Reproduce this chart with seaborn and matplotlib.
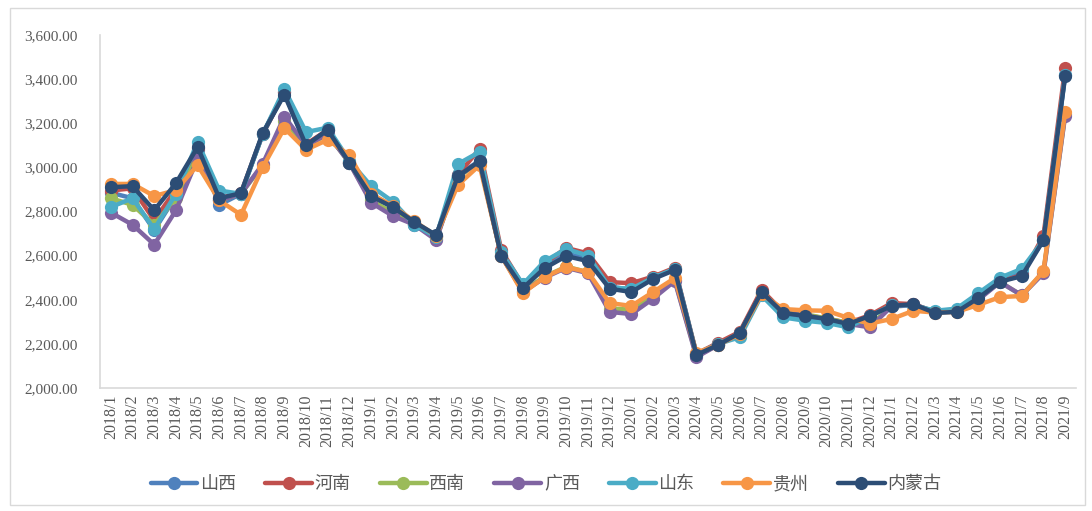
import numpy as np
import pandas as pd
import seaborn as sns
import matplotlib.pyplot as plt
from matplotlib.patches import Rectangle
from matplotlib.ticker import FuncFormatter

months = ['2018/%d' % m for m in range(1, 13)] + ['2019/%d' % m for m in range(1, 13)] + \
         ['2020/%d' % m for m in range(1, 13)] + ['2021/%d' % m for m in range(1, 10)]

shanxi = [2885, 2860, 2715, 2870, 3080, 2830, 2880, 3150, 3340, 3100, 3170, 3020,
          2870, 2820, 2745, 2690, 2965, 3030, 2605, 2455, 2555, 2610, 2585, 2460,
          2445, 2500, 2540, 2150, 2200, 2240, 2435, 2335, 2320, 2305, 2285, 2325,
          2375, 2380, 2345, 2350, 2420, 2490, 2520, 2670, 3420]
henan = [2895, 2905, 2760, 2900, 3090, 2860, 2885, 3150, 3340, 3105, 3170, 3025,
         2875, 2825, 2750, 2690, 2965, 3085, 2625, 2465, 2565, 2635, 2610, 2480,
         2475, 2505, 2545, 2155, 2205, 2255, 2445, 2345, 2330, 2315, 2295, 2330,
         2385, 2380, 2345, 2350, 2415, 2485, 2510, 2690, 3450]
xinan = [2860, 2830, 2740, 2860, 3050, 2850, 2880, 3010, 3210, 3095, 3150, 3020,
         2850, 2795, 2745, 2675, 2955, 3025, 2600, 2440, 2505, 2550, 2525, 2360,
         2355, 2420, 2490, 2145, 2195, 2250, 2430, 2345, 2335, 2315, 2295, 2285,
         2370, 2375, 2345, 2350, 2405, 2480, 2420, 2525, 3240]
guangxi = [2795, 2740, 2650, 2805, 3040, 2850, 2880, 3015, 3230, 3100, 3150, 3020,
           2840, 2780, 2740, 2670, 2960, 3025, 2600, 2435, 2500, 2545, 2520, 2345,
           2335, 2405, 2485, 2140, 2195, 2250, 2430, 2340, 2330, 2310, 2290, 2275,
           2370, 2375, 2345, 2350, 2400, 2480, 2420, 2520, 3235]
shandong = [2820, 2860, 2720, 2880, 3115, 2895, 2880, 3150, 3355, 3160, 3180, 3030,
            2915, 2845, 2740, 2685, 3015, 3070, 2615, 2470, 2575, 2630, 2600, 2455,
            2450, 2500, 2540, 2155, 2200, 2230, 2420, 2320, 2305, 2295, 2275, 2325,
            2375, 2375, 2350, 2360, 2430, 2500, 2540, 2670, 3420]
guizhou = [2925, 2925, 2870, 2897, 3010, 2850, 2785, 3000, 3178, 3080, 3125, 3055,
           2880, 2825, 2755, 2690, 2920, 3010, 2600, 2430, 2503, 2548, 2525, 2385,
           2372, 2435, 2498, 2160, 2195, 2245, 2425, 2358, 2352, 2350, 2318, 2292,
           2313, 2350, 2342, 2345, 2377, 2412, 2417, 2530, 3250]
neimenggu = [2910, 2915, 2806, 2928, 3092, 2860, 2883, 3155, 3330, 3100, 3170, 3020,
             2870, 2820, 2752, 2693, 2960, 3028, 2598, 2453, 2543, 2598, 2575, 2450,
             2435, 2494, 2535, 2150, 2195, 2250, 2435, 2340, 2327, 2313, 2290, 2327,
             2372, 2380, 2340, 2345, 2408, 2482, 2507, 2670, 3413]

names = ['山西', '河南', '西南', '广西', '山东', '贵州', '内蒙古']
colors = ['#4F81BD', '#C0504D', '#9BBB59', '#8064A2', '#4BACC6', '#F79646', '#2C4D75']
series = [shanxi, henan, xinan, guangxi, shandong, guizhou, neimenggu]

df = pd.concat([pd.DataFrame({'idx': range(len(months)), 'value': s, 'region': n})
                for n, s in zip(names, series)], ignore_index=True)

sns.set_style('white')
plt.rcParams['font.family'] = ['Liberation Serif', 'Noto Sans CJK SC']

fig = plt.figure(figsize=(10.92, 5.11), dpi=100)
ax = fig.add_axes([100 / 1092, 1 - 388 / 511, 976 / 1092, 353 / 511])

sns.lineplot(data=df, x='idx', y='value', hue='region', hue_order=names,
             palette=colors, marker='o', markersize=9.5, markeredgewidth=0,
             linewidth=3.2, ax=ax, legend=True)

ax.set_xlim(-0.5, len(months) - 0.5)
ax.set_ylim(2000, 3600)
ax.set_yticks(np.arange(2000, 3601, 200))
ax.yaxis.set_major_formatter(FuncFormatter(lambda v, p: '{:,.2f}'.format(v)))
ax.set_xticks(range(len(months)))
ax.set_xticklabels(months, rotation=90)
ax.set_xticks(np.arange(-0.5, len(months), 1), minor=True)
ax.tick_params(axis='x', which='major', length=0, pad=5, labelsize=11.5, labelcolor='#595959')
ax.tick_params(axis='x', which='minor', length=4, color='#D9D9D9', width=1, direction='out')
ax.tick_params(axis='y', length=0, pad=16, labelsize=11, labelcolor='#595959')
ax.set_xlabel('')
ax.set_ylabel('')

for side in ['top', 'right']:
    ax.spines[side].set_visible(False)
for side in ['left', 'bottom']:
    ax.spines[side].set_color('#D9D9D9')
    ax.spines[side].set_linewidth(1.2)

handles, labels = ax.get_legend_handles_labels()
ax.legend_.remove()
fig.legend(handles, labels, loc='center', bbox_to_anchor=(0.5, 0.052), ncol=7,
           frameon=False, fontsize=13, handlelength=2.6, columnspacing=1.6,
           handletextpad=0.15, labelcolor='#595959')

fig.patches.append(Rectangle((10 / 1092, 6 / 511), 1075 / 1092, 497 / 511,
                             transform=fig.transFigure, fill=False,
                             edgecolor='#D9D9D9', linewidth=1))

fig.savefig('out.png', dpi=100)
